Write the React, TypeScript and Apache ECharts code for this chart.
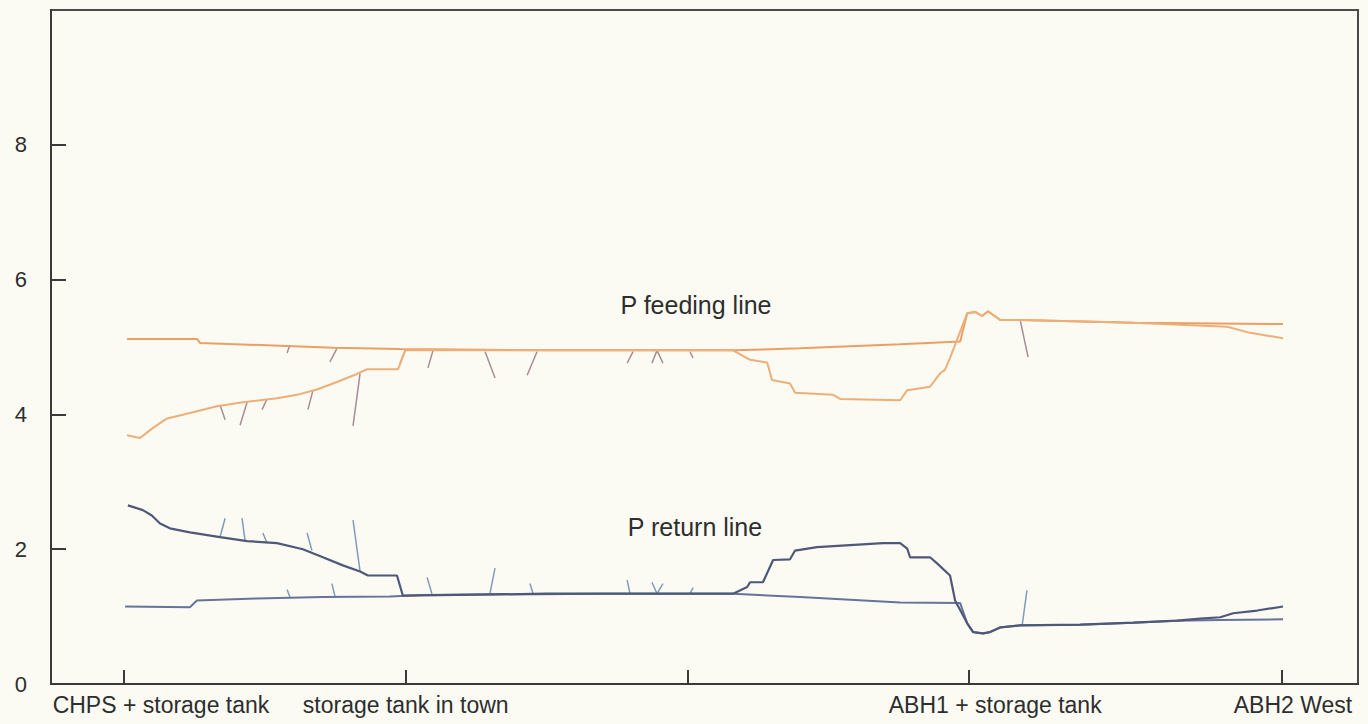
import React, { useEffect, useRef } from "react";
import * as echarts from "echarts";

// x: distance along the network (tick units), y: pressure
const xTicks = [0, 1, 2, 3, 4.11];
const xTickLabels = ["CHPS + storage tank", "storage tank in town", "", "ABH1 + storage tank", "ABH2 West"];
const yTicks = [0, 2, 4, 6, 8];

const feedA: number[][] = [
  [0.011, 5.12], [0.259, 5.12], [0.27, 5.06], [0.742, 4.99], [0.98, 4.97], [1.5, 4.95],
  [2.162, 4.95], [2.4, 4.98], [2.755, 5.04], [2.968, 5.08], [2.993, 5.5], [3.021, 5.52],
  [3.046, 5.46], [3.067, 5.53], [3.11, 5.4], [3.181, 5.4], [3.404, 5.38], [3.582, 5.36], [4.114, 5.34],
];

const feedB: number[][] = [
  [0.011, 3.69], [0.057, 3.65], [0.103, 3.8], [0.153, 3.94], [0.234, 4.02], [0.33, 4.12],
  [0.422, 4.18], [0.543, 4.24], [0.614, 4.29], [0.685, 4.37], [0.756, 4.48], [0.827, 4.6],
  [0.863, 4.67], [0.973, 4.67], [0.998, 4.95], [2.162, 4.95], [2.222, 4.81], [2.283, 4.77],
  [2.3, 4.51], [2.364, 4.46], [2.382, 4.32], [2.517, 4.29], [2.542, 4.23], [2.755, 4.21],
  [2.78, 4.36], [2.861, 4.41], [2.897, 4.61], [2.914, 4.66], [2.932, 4.84], [2.993, 5.5],
  [3.021, 5.52], [3.046, 5.46], [3.067, 5.53], [3.11, 5.4], [3.181, 5.4], [3.404, 5.38],
  [3.582, 5.36], [3.916, 5.3], [3.997, 5.21], [4.114, 5.13],
];

const returnB: number[][] = [
  [0.014, 2.65], [0.067, 2.58], [0.099, 2.5], [0.128, 2.38], [0.163, 2.31], [0.234, 2.25],
  [0.341, 2.18], [0.437, 2.12], [0.543, 2.09], [0.635, 2.0], [0.706, 1.88], [0.777, 1.76],
  [0.838, 1.67], [0.866, 1.61], [0.969, 1.61], [0.99, 1.31], [1.5, 1.34], [2.162, 1.34],
  [2.212, 1.44], [2.222, 1.51], [2.268, 1.51], [2.304, 1.84], [2.364, 1.85], [2.382, 1.98],
  [2.46, 2.03], [2.577, 2.06], [2.694, 2.09], [2.755, 2.09], [2.78, 2.01], [2.79, 1.88],
  [2.861, 1.88], [2.886, 1.79], [2.932, 1.61], [2.95, 1.24], [2.993, 0.9], [3.014, 0.77],
  [3.049, 0.75], [3.074, 0.77], [3.11, 0.84], [3.181, 0.87], [3.394, 0.88], [3.582, 0.91],
  [3.738, 0.94], [3.82, 0.97], [3.891, 0.99], [3.937, 1.05], [4.022, 1.09], [4.114, 1.15],
];

const returnA: number[][] = [
  [0.004, 1.15], [0.234, 1.14], [0.259, 1.24], [0.472, 1.27], [0.706, 1.29], [0.944, 1.3],
  [1.061, 1.32], [1.69, 1.34], [2.162, 1.34], [2.4, 1.29], [2.755, 1.21], [2.968, 1.2],
  [2.993, 0.9], [3.014, 0.77], [3.049, 0.75], [3.074, 0.77], [3.11, 0.84], [3.181, 0.87],
  [3.394, 0.88], [3.582, 0.91], [3.738, 0.94], [3.891, 0.95], [4.114, 0.96],
];

// branch spikes: [x1, y1, x2, y2]
const feedSpikes: number[][] = [
  [0.589, 5.03, 0.579, 4.91], [0.756, 4.98, 0.731, 4.78], [0.998, 4.95, 0.98, 4.76],
  [0.341, 4.14, 0.359, 3.92], [0.437, 4.18, 0.412, 3.84], [0.508, 4.23, 0.49, 4.07],
  [0.671, 4.36, 0.653, 4.07], [0.838, 4.61, 0.813, 3.83], [1.097, 4.95, 1.079, 4.69],
  [1.282, 4.93, 1.317, 4.54], [1.466, 4.93, 1.431, 4.58], [1.807, 4.93, 1.786, 4.76],
  [1.892, 4.95, 1.874, 4.76], [1.892, 4.95, 1.913, 4.76], [2.009, 4.93, 2.02, 4.84],
  [3.181, 5.4, 3.209, 4.85],
];

const returnSpikes: number[][] = [
  [0.341, 2.18, 0.359, 2.46], [0.43, 2.12, 0.419, 2.46], [0.508, 2.09, 0.493, 2.24],
  [0.667, 1.98, 0.65, 2.24], [0.838, 1.67, 0.813, 2.43], [0.589, 1.29, 0.579, 1.4],
  [0.749, 1.3, 0.738, 1.49], [1.093, 1.34, 1.076, 1.58], [1.299, 1.34, 1.317, 1.72],
  [1.452, 1.34, 1.441, 1.49], [1.796, 1.34, 1.786, 1.54], [1.892, 1.34, 1.874, 1.51],
  [1.892, 1.34, 1.913, 1.49], [2.009, 1.34, 2.02, 1.43], [3.188, 0.87, 3.205, 1.39],
];

const seriesNames = ["P feeding line", "P return line"];

function spikeData(sp: number[][]) {
  const out: (number[] | null)[] = [];
  sp.forEach((s) => {
    out.push([s[0], s[1]]);
    out.push([s[2], s[3]]);
    out.push(null);
  });
  return out;
}

const FONT = "'Liberation Sans', Arial, Helvetica, sans-serif";
const labelShift: Record<number, number> = { 0: 74, 3: 52, 4: 22 };

export default function App() {
  const ref = useRef<HTMLDivElement>(null);
  useEffect(() => {
    document.body.style.margin = "0";
    const chart = echarts.init(ref.current!, null, { renderer: "svg" });
    const rich: Record<string, any> = {};
    xTickLabels.forEach((_, i) => {
      rich["s" + i] = {
        fontSize: 23,
        fontFamily: FONT,
        color: "#2e2e2e",
        padding: [0, 0, 0, labelShift[i] || 0],
      };
    });
    const lineBase = { type: "line", showSymbol: false, symbol: "none", silent: true };
    chart.setOption({
      animation: false,
      backgroundColor: "#fbfbf4",
      grid: {
        left: 51,
        right: 10,
        top: 10,
        bottom: 40,
        show: true,
        borderColor: "#4a4a4a",
        borderWidth: 2,
        backgroundColor: "transparent",
      },
      xAxis: {
        type: "value",
        min: -0.259,
        max: 4.38,
        splitLine: { show: false },
        axisLine: { onZero: false, lineStyle: { color: "#3a3a3a", width: 2 } },
        axisTick: {
          inside: true,
          length: 14,
          customValues: xTicks,
          lineStyle: { color: "#3a3a3a", width: 2 },
        },
        axisLabel: {
          customValues: xTicks.filter((_, i) => xTickLabels[i] !== ""),
          margin: 9,
          fontSize: 23,
          fontFamily: FONT,
          color: "#2e2e2e",
          formatter: (v: number) => {
            const i = xTicks.findIndex((t) => Math.abs(t - v) < 0.005);
            return i >= 0 && xTickLabels[i] ? `{s${i}|${xTickLabels[i]}}` : "";
          },
          rich,
        },
      },
      yAxis: {
        type: "value",
        min: 0,
        max: 10,
        interval: 2,
        splitLine: { show: false },
        axisLine: { show: true, onZero: false, lineStyle: { color: "#3a3a3a", width: 2 } },
        axisTick: {
          show: true,
          inside: true,
          length: 15,
          customValues: [2, 4, 6, 8],
          lineStyle: { color: "#3a3a3a", width: 2 },
        },
        axisLabel: {
          customValues: yTicks,
          margin: 24,
          fontSize: 22,
          fontFamily: FONT,
          color: "#2e2e2e",
        },
      },
      series: [
        { ...lineBase, name: "feed spikes", data: spikeData(feedSpikes), connectNulls: false, lineStyle: { color: "#a98c98", width: 1.5 } },
        { ...lineBase, name: "return spikes", data: spikeData(returnSpikes), connectNulls: false, lineStyle: { color: "#7f9cba", width: 1.5 } },
        { ...lineBase, name: seriesNames[0] + " A", data: feedA, lineStyle: { color: "#ec9f62", width: 2 } },
        { ...lineBase, name: seriesNames[0] + " B", data: feedB, lineStyle: { color: "#eeae78", width: 2 } },
        { ...lineBase, name: seriesNames[1] + " A", data: returnA, lineStyle: { color: "#66739a", width: 2 } },
        { ...lineBase, name: seriesNames[1] + " B", data: returnB, lineStyle: { color: "#4f5878", width: 2.2 } },
      ],
      graphic: [
        {
          type: "text",
          x: 696,
          y: 305,
          style: { text: seriesNames[0], font: `25px ${FONT}`, fill: "#2e2e2e", textAlign: "center", textVerticalAlign: "middle" },
        },
        {
          type: "text",
          x: 695,
          y: 527,
          style: { text: seriesNames[1], font: `25px ${FONT}`, fill: "#2e2e2e", textAlign: "center", textVerticalAlign: "middle" },
        },
      ],
    });
    return () => chart.dispose();
  }, []);
  return <div ref={ref} style={{ width: 1368, height: 724 }} />;
}
